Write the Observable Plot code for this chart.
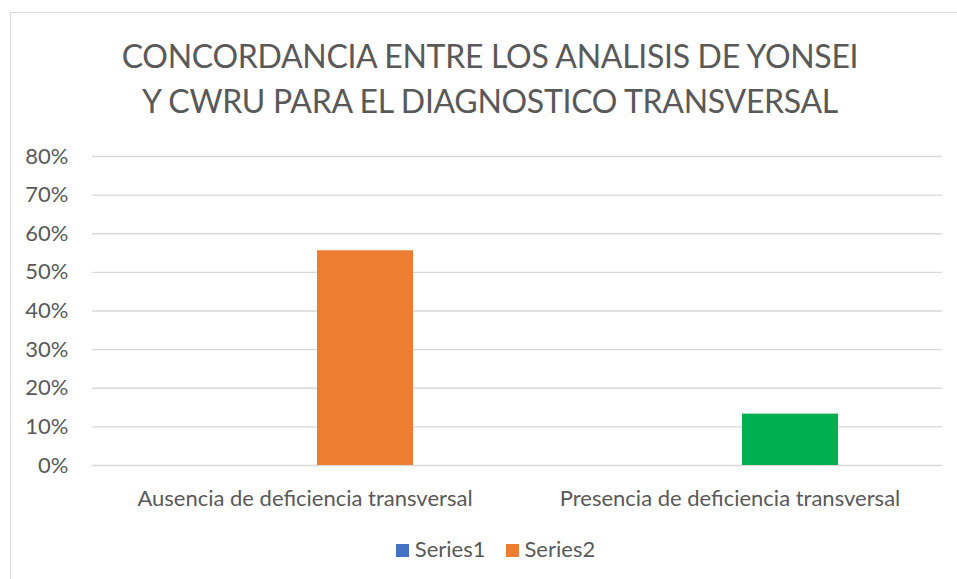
<!DOCTYPE html>
<html><head><meta charset="utf-8">
<script src="https://cdn.jsdelivr.net/npm/d3@7"></script>
<script src="https://cdn.jsdelivr.net/npm/@observablehq/plot@0.6"></script>
<style>
html,body{margin:0;padding:0;background:#fff;}
#wrap{position:relative;width:957px;height:579px;overflow:hidden;font-family:Lato,"Open Sans",sans-serif;color:#595959;}
#frame{position:absolute;left:10px;top:12px;width:1000px;height:700px;border-left:1px solid #D9D9D9;border-top:1px solid #D9D9D9;}
#title{position:absolute;left:0;width:980px;top:33px;text-align:center;font-size:32px;line-height:45px;font-weight:400;letter-spacing:-0.3px;}
#chart{position:absolute;left:0;top:140px;}
#legend{position:absolute;left:0;width:991px;top:537px;text-align:center;font-size:22px;line-height:24px;}
#legend span.item{display:inline-block;margin:0 10px;}
#legend i{display:inline-block;width:13px;height:13px;margin-right:6px;vertical-align:0px;}
</style></head>
<body><div id="wrap"><div id="frame"></div>
<div id="title">CONCORDANCIA ENTRE LOS ANALISIS DE YONSEI<br>Y CWRU PARA EL DIAGNOSTICO TRANSVERSAL</div>
<div id="chart"></div><div id="legend"></div></div>
<script>
const categories = ["Ausencia de deficiencia transversal", "Presencia de deficiencia transversal"];
const seriesNames = ["Series1", "Series2"];
const series1 = [0, 0];
const series2 = [0.556, 0.133];
const yTicks = [0, 0.1, 0.2, 0.3, 0.4, 0.5, 0.6, 0.7, 0.8];

const seriesColors = {Series1: "#4472C4", Series2: "#ED7D31"};
const pointColors = {"Series2|Presencia de deficiencia transversal": "#00B050"};

const rows = [];
categories.forEach((c, i) => {
  rows.push({category: c, series: "Series1", value: series1[i]});
  rows.push({category: c, series: "Series2", value: series2[i]});
});
const fillOf = d => pointColors[d.series + "|" + d.category] || seriesColors[d.series];

const chart = Plot.plot({
  width: 957, height: 375,
  marginLeft: 92, marginRight: 15, marginTop: 16, marginBottom: 50,
  style: {fontFamily: "Lato, 'Open Sans', sans-serif", fontSize: "22px", color: "#595959", background: "transparent"},
  fx: {domain: categories, padding: 0, axis: "bottom", label: null, tickSize: 0, tickPadding: 25},
  x: {domain: seriesNames, axis: null, paddingInner: 0.2, paddingOuter: 0.8708},
  y: {domain: [0, 0.8], ticks: yTicks, tickFormat: d3.format(".0%"), tickSize: 0, tickPadding: 24, label: null},
  marks: [
    Plot.gridY(yTicks, {stroke: "#D9D9D9", strokeOpacity: 1, strokeWidth: 1.3}),
    Plot.barY(rows, {fx: "category", x: "series", y: "value", fill: fillOf}),
    Plot.axisY(yTicks, {tickFormat: d3.format(".0%"), tickSize: 0, tickPadding: 24, fill: "#595959"})
  ]
});
document.getElementById("chart").appendChild(chart);

const lg = document.getElementById("legend");
seriesNames.forEach(s => {
  const sp = document.createElement("span"); sp.className = "item";
  const i = document.createElement("i"); i.style.background = seriesColors[s];
  sp.appendChild(i); sp.appendChild(document.createTextNode(s)); lg.appendChild(sp);
});
</script></body></html>
